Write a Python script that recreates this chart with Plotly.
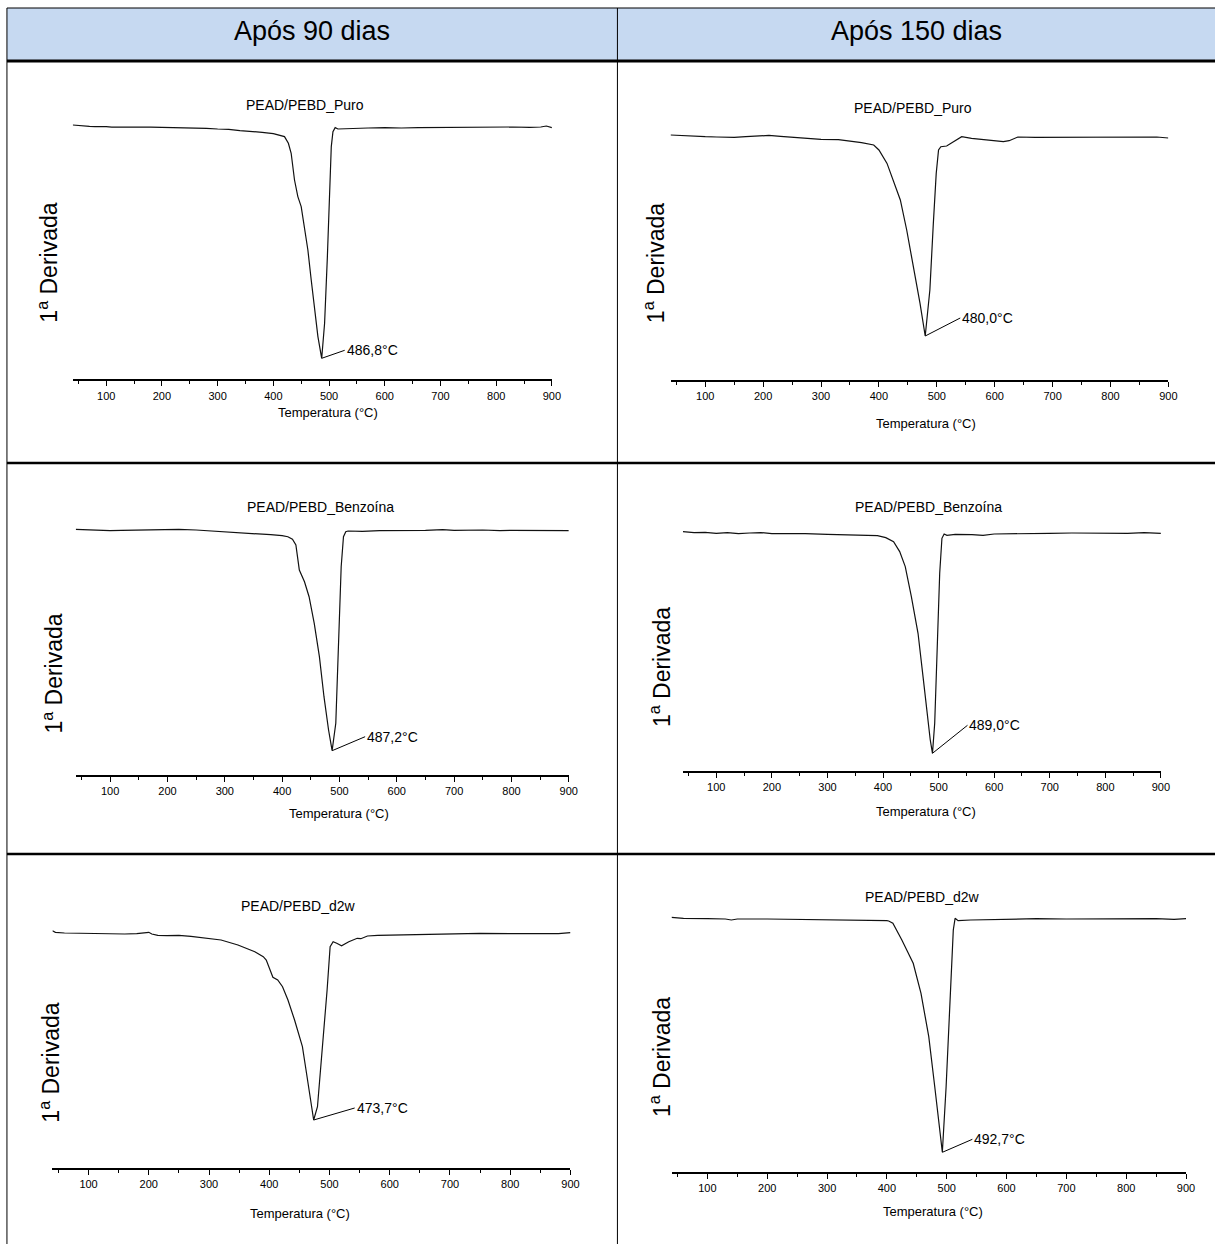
import plotly.graph_objects as go

W, H = 1224, 1244

# ---------------- data (DTG curves, arbitrary units) ----------------
col_headers = ["Após 90 dias", "Após 150 dias"]
panel_titles = ["PEAD/PEBD_Puro", "PEAD/PEBD_Puro",
                "PEAD/PEBD_Benzoína", "PEAD/PEBD_Benzoína",
                "PEAD/PEBD_d2w", "PEAD/PEBD_d2w"]
peak_labels = ["486,8°C", "480,0°C", "487,2°C", "489,0°C", "473,7°C", "492,7°C"]
x_ticks = [100, 200, 300, 400, 500, 600, 700, 800, 900]
x_title = "Temperatura (°C)"
y_title = "1<sup>a</sup> Derivada"

T_TL = [40, 50, 60, 70, 80, 90, 100, 110, 120, 140, 160, 180, 200, 220, 240, 260, 280, 300, 320, 340, 360, 380,
        400, 410, 420, 427, 432, 438, 444, 450, 456, 462, 468, 474, 480, 486.8, 492, 497, 501, 504, 507, 511,
        516, 530, 550, 570, 600, 630, 660, 700, 730, 760, 800, 830, 860, 880, 890, 900]
D_TL = [2.3, 1.7, 1.3, 1.0, 0.7, 1.0, 0.7, 0.2, 0.3, 0.0, 0.3, 0.2, 0.0, -0.3, 0.0, -0.7, -1.0, -1.7, -2.0, -3.3,
        -4.0, -5.0, -6.3, -7.7, -9.3, -16.0, -26.0, -52.7, -69.3, -79.3, -99.3, -122.7, -152.7, -182.7, -209.3,
        -231.0, -196.0, -129.3, -62.7, -19.3, -4.3, -0.3, -1.7, -1.3, -1.0, -0.7, -0.3, -0.7, -0.3, 0.0, -0.3,
        0.3, 0.0, 0.3, 0.0, 0.3, 1.3, -0.3]

T_TR = [40, 60, 80, 100, 120, 150, 170, 190, 210, 230, 250, 270, 300, 330, 350, 370, 391, 400, 414, 425,
        437, 448, 460, 471, 480, 488, 494, 499, 503, 507, 517, 528, 543, 560, 580, 600, 615, 625, 635, 640,
        670, 700, 750, 800, 830, 850, 880, 900]
D_TR = [1.7, 1.0, 0.7, 0.0, -0.3, -0.7, 0.0, 0.7, 1.3, 0.3, -0.7, -1.3, -2.7, -3.0, -4.3, -6.0, -8.3, -13.3,
        -26.7, -43.3, -63.3, -93.3, -130.0, -166.7, -199.3, -153.3, -86.7, -36.7, -13.3, -10.0, -9.3, -5.0, 0.0,
        -1.7, -2.7, -4.0, -5.0, -4.0, -1.0, -0.3, -0.7, -0.7, -0.3, -1.0, -0.3, -0.7, -0.3, -1.3]

T_ML = [40, 60, 80, 100, 120, 150, 180, 200, 220, 250, 280, 300, 330, 350, 380, 400, 410, 418, 424, 430,
        439, 447, 456, 465, 473, 481, 487.2, 493.6, 498, 503, 507, 511, 515, 540, 570, 600, 630, 650, 680, 700,
        750, 780, 800, 850, 880, 900]
D_ML = [0.7, 0.0, -0.3, -0.7, -0.3, 0.0, 0.3, 0.7, 0.7, 0.0, -1.0, -1.7, -2.3, -3.3, -4.7, -5.7, -6.7, -9.3,
        -15.0, -40.0, -51.7, -66.7, -93.3, -126.7, -166.7, -200.0, -220.7, -193.3, -110.0, -36.7, -6.7, -1.7,
        -1.0, -1.3, -0.7, -0.7, 0.0, -0.3, 0.3, -0.3, 0.0, -0.7, -0.3, -0.3, 0.0, -0.7]

T_MR = [40, 60, 80, 100, 120, 140, 160, 180, 200, 230, 260, 300, 330, 360, 390, 405, 419, 430, 440, 451,
        463, 472, 480, 485, 489, 493, 498, 502, 506, 510, 515, 530, 560, 580, 600, 630, 660, 700, 740, 780,
        800, 840, 870, 900]
D_MR = [1.7, 0.7, 1.0, 0.0, 0.7, -0.3, 0.3, 0.7, -0.3, 0.0, -0.3, -1.0, -1.3, -1.7, -2.3, -4.3, -8.3, -18.3,
        -33.3, -63.3, -100.0, -143.3, -183.3, -206.7, -220.0, -190.0, -106.7, -40.0, -5.0, -0.7, -2.0, -1.0,
        -1.3, -2.0, -0.7, -0.3, 0.0, 0.0, 0.3, 0.0, 0.3, 0.0, 0.7, 0.0]

T_BL = [40, 45, 60, 80, 100, 130, 160, 180, 195, 200, 205, 215, 230, 250, 270, 300, 320, 348, 376, 390,
        395, 406, 414, 422, 431, 442, 450, 455, 461, 466, 473.7, 480, 488, 496, 501, 506, 512, 520, 532, 546,
        552, 563, 580, 600, 650, 700, 750, 800, 850, 880, 900]
D_BL = [3.3, 1.7, 1.0, 0.7, 0.3, 0.0, 0.0, 0.3, 1.3, 1.7, 0.0, -1.3, -1.7, -1.3, -2.3, -4.3, -6.0, -11.0,
        -17.7, -22.7, -26.0, -43.3, -46.0, -52.7, -66.0, -86.0, -102.7, -112.7, -136.0, -156.0, -186.0, -172.7,
        -116.0, -56.0, -12.7, -7.7, -9.3, -11.7, -7.7, -4.3, -4.7, -2.0, -1.3, -1.0, -0.3, 0.0, 0.7, 0.3, 0.7,
        0.3, 1.3]

T_BR = [40, 60, 100, 130, 140, 150, 200, 250, 300, 350, 400, 403, 410, 425, 444, 457, 470, 480, 489, 492.7,
        499, 506, 511, 514, 519, 540, 600, 650, 700, 750, 800, 850, 880, 900]
D_BR = [1.7, 0.7, 0.3, 0.0, -1.0, 0.0, 0.0, -0.3, -0.7, -1.0, -1.7, -2.0, -4.3, -21.0, -44.3, -74.3, -117.7,
        -167.7, -217.7, -233.3, -167.7, -84.3, -11.0, 0.7, -1.7, -1.0, 0.0, 0.3, 0.0, 0.3, 0.0, 0.3, -0.3, 0.3]

series = [(T_TL, D_TL), (T_TR, D_TR), (T_ML, D_ML), (T_MR, D_MR), (T_BL, D_BL), (T_BR, D_BR)]

# ---------------- layout geometry (pixels) ----------------
panels = [
    dict(xl=73.3, xr=556.0, base=127.3, axis=379.3, title=(307, 105), xt=(330, 413), yt=(48, 263), ax=23, ay=-8),
    dict(xl=675.5, xr=1177.0, base=136.7, axis=380.0, title=(920, 108), xt=(933, 423), yt=(659, 263), ax=35, ay=-18),
    dict(xl=76.3, xr=573.0, base=530.0, axis=775.0, title=(323, 507), xt=(342, 813), yt=(53, 674), ax=33, ay=-14),
    dict(xl=688.0, xr=1169.5, base=533.3, axis=771.0, title=(935, 507), xt=(933, 811), yt=(665, 667), ax=35, ay=-28),
    dict(xl=52.8, xr=574.7, base=934.0, axis=1167.7, title=(300, 906), xt=(302, 1213), yt=(50, 1063), ax=41, ay=-12),
    dict(xl=676.5, xr=1194.8, base=919.0, axis=1171.7, title=(929, 897), xt=(940, 1211), yt=(665, 1057), ax=30, ay=-13),
]
TOP_PAD = 20
FONT = "Arial, 'Liberation Sans', sans-serif"


def px(x):
    return x / W


def py(y):
    return 1 - y / H


fig = go.Figure()
layout = dict(width=W, height=H, margin=dict(l=0, r=0, t=0, b=0, pad=0), autosize=False,
              paper_bgcolor="white", plot_bgcolor="white", showlegend=False,
              font=dict(family=FONT, color="black"), hovermode=False)
annotations = []
shapes = []

for i, ((T, D), p) in enumerate(zip(series, panels), start=1):
    xa = "x" if i == 1 else f"x{i}"
    ya = "y" if i == 1 else f"y{i}"
    fig.add_trace(go.Scatter(x=T, y=D, mode="lines", xaxis=xa, yaxis=ya,
                             line=dict(color="#111111", width=1.2), hoverinfo="skip"))
    top = p["base"] - TOP_PAD
    layout[f"xaxis{'' if i == 1 else i}"] = dict(
        domain=[px(p["xl"]), px(p["xr"])], anchor=ya, range=[40, 900],
        tickvals=x_ticks, ticks="outside", ticklen=5, tickwidth=1.2, tickcolor="black",
        minor=dict(tickvals=[50, 150, 250, 350, 450, 550, 650, 750, 850], ticks="outside",
                   ticklen=3, tickwidth=1, tickcolor="black"),
        showline=True, linecolor="black", linewidth=2, showgrid=False, zeroline=False,
        tickfont=dict(size=11, family=FONT, color="black"), fixedrange=True)
    layout[f"yaxis{'' if i == 1 else i}"] = dict(
        domain=[py(p["axis"]), py(top)], anchor=xa,
        range=[-(p["axis"] - p["base"]), TOP_PAD], visible=False, fixedrange=True)

    annotations.append(dict(xref="paper", yref="paper", x=px(p["title"][0]), y=py(p["title"][1]),
                            text=panel_titles[i - 1], showarrow=False, xanchor="center", yanchor="middle",
                            font=dict(size=14, family=FONT, color="black")))
    annotations.append(dict(xref="paper", yref="paper", x=px(p["xt"][0]), y=py(p["xt"][1]),
                            text=x_title, showarrow=False, xanchor="center", yanchor="middle",
                            font=dict(size=13, family=FONT, color="black")))
    annotations.append(dict(xref="paper", yref="paper", x=px(p["yt"][0]), y=py(p["yt"][1]),
                            text=y_title, showarrow=False, xanchor="center", yanchor="middle",
                            textangle=-90, font=dict(size=23, family=FONT, color="black")))
    k = min(range(len(D)), key=lambda j: D[j])
    annotations.append(dict(xref=xa, yref=ya, x=T[k], y=D[k], text=peak_labels[i - 1],
                            showarrow=True, arrowhead=0, arrowwidth=1, arrowcolor="black",
                            ax=p["ax"], ay=p["ay"], xanchor="left", yanchor="middle", standoff=0,
                            font=dict(size=14, family=FONT, color="black")))

# ---------------- table frame ----------------
LEFT, MID, RIGHT = 7, 622, 1224
HEAD_T, HEAD_B = 8, 61
ROW1, ROW2 = 463, 854
shapes.append(dict(type="rect", xref="paper", yref="paper", x0=px(LEFT), x1=px(RIGHT),
                   y0=py(HEAD_B), y1=py(HEAD_T), fillcolor="#C6D9F1", line=dict(width=0), layer="below"))
shapes.append(dict(type="line", xref="paper", yref="paper", x0=px(LEFT), x1=px(RIGHT),
                   y0=py(HEAD_T), y1=py(HEAD_T), line=dict(color="black", width=1)))
shapes.append(dict(type="line", xref="paper", yref="paper", x0=px(LEFT), x1=px(RIGHT),
                   y0=py(HEAD_B), y1=py(HEAD_B), line=dict(color="black", width=3)))
for yy in (ROW1, ROW2):
    shapes.append(dict(type="line", xref="paper", yref="paper", x0=px(LEFT), x1=px(RIGHT),
                       y0=py(yy), y1=py(yy), line=dict(color="black", width=2.5)))
for xx in (LEFT, MID):
    shapes.append(dict(type="line", xref="paper", yref="paper", x0=px(xx), x1=px(xx),
                       y0=py(HEAD_T), y1=0, line=dict(color="black", width=1)))

for cx, txt in zip([(LEFT + MID) / 2, (MID + RIGHT) / 2], col_headers):
    annotations.append(dict(xref="paper", yref="paper", x=px(cx), y=py(31), text=txt,
                            showarrow=False, xanchor="center", yanchor="middle",
                            font=dict(size=27, family=FONT, color="black")))

layout["annotations"] = annotations
layout["shapes"] = shapes
fig.update_layout(**layout)

fig.write_html("out.html", config={"displayModeBar": False},
               post_script=("document.documentElement.style.margin='0';"
                            "document.documentElement.style.overflow='hidden';"
                            "document.body.style.margin='0';document.body.style.padding='0';"
                            "document.body.style.overflow='hidden';"))
